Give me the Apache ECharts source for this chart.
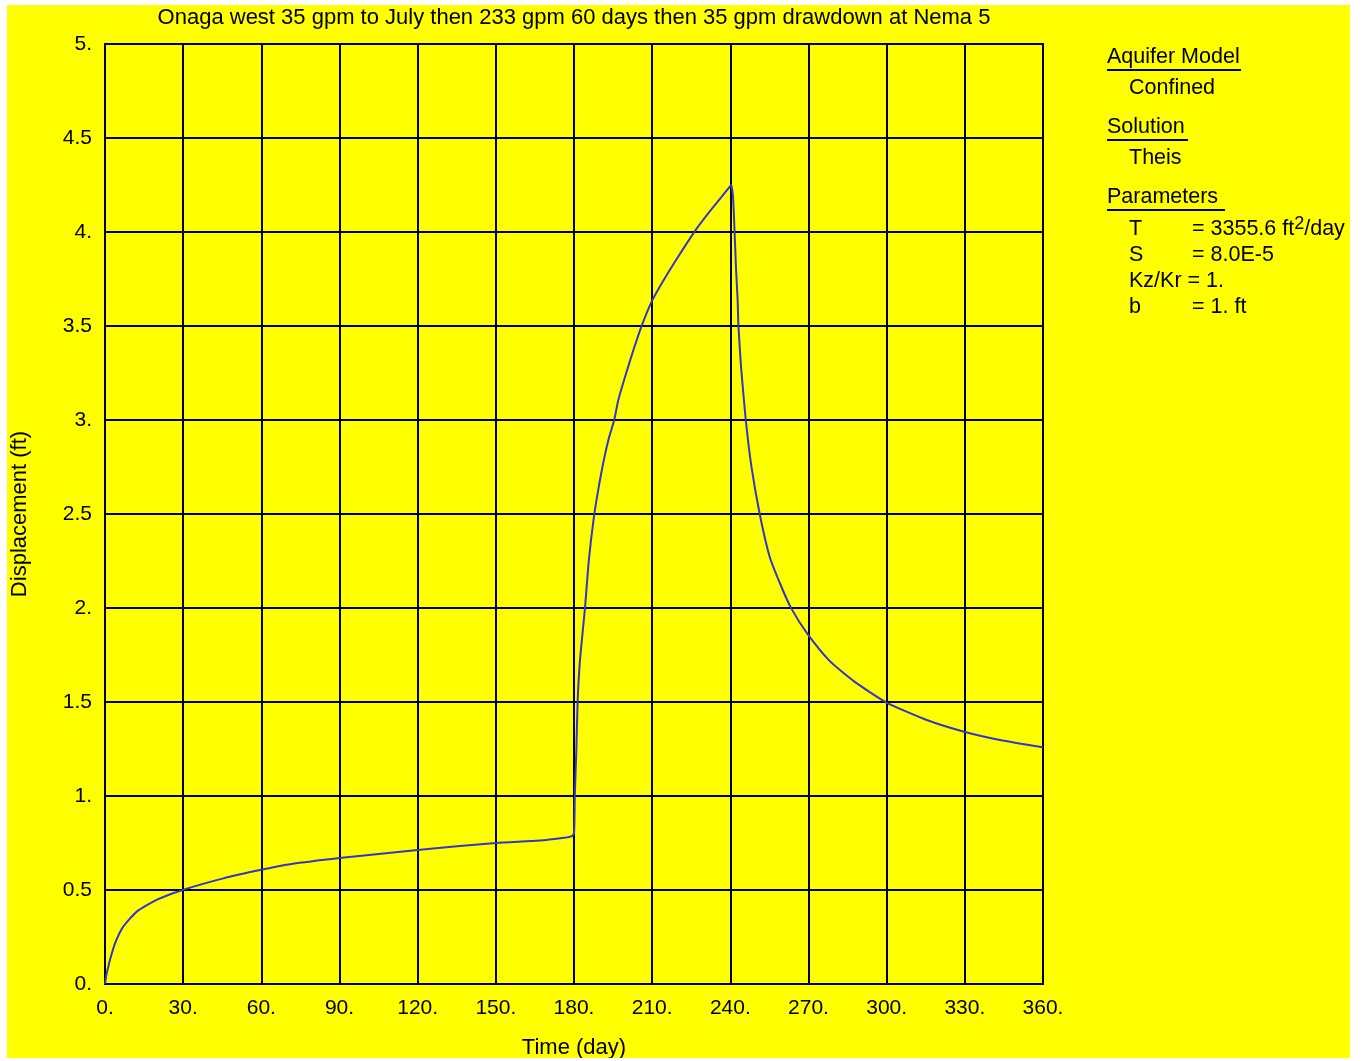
<!DOCTYPE html>
<html>
<head>
<meta charset="utf-8">
<script src="https://cdn.jsdelivr.net/npm/echarts@6/dist/echarts.min.js"></script>
<style>html,body{margin:0;padding:0;background:#fff}#c{width:1361px;height:1061px}</style>
</head>
<body>
<div id="c"></div>
<script>
// Time (day)
var days = [0, 0.64, 1.28, 1.9, 3.84, 7.0, 12.2, 19.8, 29.8, 45.4, 59.5, 71, 90, 120, 150, 166.9, 176.3, 179.0,
  180.0, 180.3, 180.9, 181.4, 182.3, 184.2, 185.7, 187.6, 189.3, 191.2, 193.2, 195.5, 197.0, 199.6, 202.8,
  206.0, 209.8, 213.7, 218.8, 226.4, 231.5, 236.7, 239.6, 240.3, 241.1, 242.2, 242.8, 243.1, 244.1, 245.9,
  248.1, 251.3, 255.1, 259.6, 263.4, 269.4, 278, 287.5, 300, 315.4, 329.7, 343.5, 360];
// Displacement (ft)
var displacement = [0, 0.057, 0.092, 0.128, 0.216, 0.305, 0.385, 0.447, 0.5, 0.562, 0.606, 0.637, 0.67, 0.713, 0.75, 0.763, 0.778, 0.785,
  0.80, 1.0, 1.245, 1.505, 1.723, 1.998, 2.255, 2.48, 2.628, 2.77, 2.894, 3.004, 3.106, 3.23, 3.372,
  3.502, 3.63, 3.727, 3.843, 4.005, 4.099, 4.188, 4.238, 4.25, 4.17, 3.80, 3.638, 3.505, 3.284, 3.004,
  2.752, 2.499, 2.273, 2.113, 1.998, 1.866, 1.72, 1.61, 1.497, 1.404, 1.342, 1.298, 1.259];

var xTicks = {min: 0, max: 360, interval: 30};
var yTicks = {min: 0, max: 5, interval: 0.5};

var titleText = 'Onaga west 35 gpm to July then 233 gpm 60 days then 35 gpm drawdown at Nema 5';

var data = days.map(function (d, i) { return [d, displacement[i]]; });

function fmt(v) {
  return (Math.round(v) === v) ? (v + '.') : String(v);
}

var FONT = '"Liberation Sans", Arial, sans-serif';
var PS = 21.5; // panel font size
var chart = echarts.init(document.getElementById('c'), null, {renderer: 'canvas'});

var panelX = 1107, indentX = 1129, eqX = 1192;
function txt(x, y, s) {
  return {type: 'text', x: x, y: y, z: 50,
    style: {text: s, fill: '#000', fontSize: PS, fontFamily: FONT, textVerticalAlign: 'middle'}};
}
function uline(x1, x2, y) {
  return {type: 'line', z: 50, shape: {x1: x1, y1: y, x2: x2, y2: y}, style: {stroke: '#000', lineWidth: 2}};
}

chart.setOption({
  backgroundColor: '#ffff00',
  animation: false,
  grid: {left: 105, right: 318, top: 44, bottom: 77, show: true, borderColor: '#000', borderWidth: 2,
    containLabel: false, outerBoundsMode: 'none'},
  xAxis: {
    type: 'value', min: xTicks.min, max: xTicks.max, interval: xTicks.interval,
    axisLine: {show: true, lineStyle: {color: '#000', width: 2}},
    axisTick: {show: false},
    axisLabel: {color: '#000', fontSize: 21, fontFamily: FONT, margin: 14, formatter: fmt},
    splitLine: {show: true, lineStyle: {color: '#000', width: 2}},
    name: 'Time (day)', nameLocation: 'middle', nameGap: 53,
    nameTextStyle: {color: '#000', fontSize: 22, fontFamily: FONT}
  },
  yAxis: {
    type: 'value', min: yTicks.min, max: yTicks.max, interval: yTicks.interval,
    axisLine: {show: true, lineStyle: {color: '#000', width: 2}},
    axisTick: {show: false},
    axisLabel: {color: '#000', fontSize: 21, fontFamily: FONT, margin: 13, formatter: fmt},
    splitLine: {show: true, lineStyle: {color: '#000', width: 2}},
    name: 'Displacement (ft)', nameLocation: 'middle', nameGap: 74,
    nameTextStyle: {color: '#000', fontSize: 22, fontFamily: FONT}
  },
  series: [{
    type: 'line', data: data, showSymbol: false, smooth: 0.2,
    lineStyle: {color: '#3535c8', width: 2}, z: 5
  }],
  graphic: [
    {type: 'text', x: 574, y: 18, z: 50,
      style: {text: titleText, fill: '#000', fontSize: 22, fontFamily: FONT, textAlign: 'center', textVerticalAlign: 'middle'}},
    txt(panelX, 57, 'Aquifer Model'),
    uline(1107, 1241, 70),
    txt(indentX, 88, 'Confined'),
    txt(panelX, 127, 'Solution'),
    uline(1107, 1188, 140),
    txt(indentX, 158, 'Theis'),
    txt(panelX, 197, 'Parameters'),
    uline(1107, 1225, 210),
    txt(indentX, 229, 'T'),
    {type: 'text', x: eqX, y: 229, z: 50, style: {text: '= 3355.6 ft{sup|2}/day', fill: '#000', fontSize: PS, fontFamily: FONT, textVerticalAlign: 'middle',
      rich: {sup: {fontSize: 18, fontFamily: FONT, fill: '#000', verticalAlign: 'top', padding: [0, 0, 10, 0]}}}},
    txt(indentX, 255, 'S'),
    txt(eqX, 255, '= 8.0E-5'),
    txt(indentX, 281, 'Kz/Kr = 1.'),
    txt(indentX, 307, 'b'),
    txt(eqX, 307, '= 1. ft'),
    // white page margins
    {type: 'rect', z: 100, shape: {x: 0, y: 0, width: 1361, height: 5}, style: {fill: '#fff'}},
    {type: 'rect', z: 100, shape: {x: 0, y: 0, width: 7, height: 1061}, style: {fill: '#fff'}},
    {type: 'rect', z: 100, shape: {x: 1350, y: 0, width: 11, height: 1061}, style: {fill: '#fff'}},
    {type: 'rect', z: 100, shape: {x: 0, y: 1058, width: 1361, height: 3}, style: {fill: '#fff'}}
  ]
});
</script>
</body>
</html>
